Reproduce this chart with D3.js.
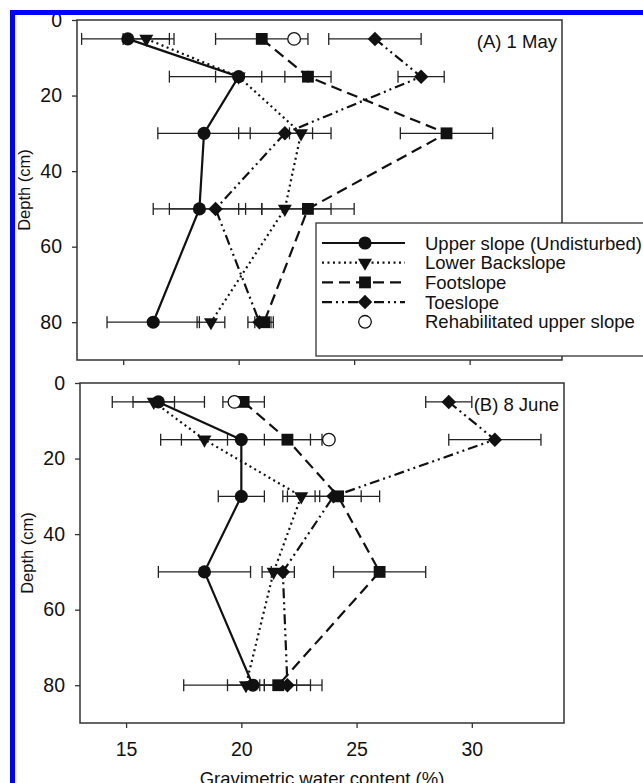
<!DOCTYPE html>
<html>
<head>
<meta charset="utf-8">
<script src="https://cdn.jsdelivr.net/npm/d3@7"></script>
<style>
body { margin: 0; background: #fff; }
text { font-family: "Liberation Sans", Arial, sans-serif; fill: #111; }
</style>
</head>
<body>
<div id="chart"></div>
<script>
// depth of each sample (cm)
var depths = [5, 15, 30, 50, 80];
var xTicks = [15, 20, 25, 30];
var yTicks = [0, 20, 40, 60, 80];
var seriesNames = ["Upper slope (Undisturbed)", "Lower Backslope", "Footslope", "Toeslope", "Rehabilitated upper slope"];

// (A) 1 May - water content (%) and error
var mayUpper = [15.2, 20.0, 18.5, 18.3, 16.3];
var mayUpperErr = [2, 3, 2, 2, 2];
var mayLower = [16.0, 20.0, 22.7, 22.0, 18.8];
var mayLowerErr = [1, 1, 0.5, 2, 0.6];
var mayFoot = [21.0, 23.0, 29.0, 23.0, 21.1];
var mayFootErr = [2, 1, 2, 2, 0.4];
var mayToe = [25.9, 27.9, 22.0, 19.0, 20.9];
var mayToeErr = [2, 1, 2, 2, 0.5];
var mayRehabDepth = [5];
var mayRehab = [22.4];

// (B) 8 June
var juneUpper = [16.4, 20.0, 20.0, 18.4, 20.5];
var juneUpperErr = [2, 3.5, 1, 2, 3];
var juneLower = [16.2, 18.4, 22.6, 21.4, 20.2];
var juneLowerErr = [0.9, 1, 0.8, 0.5, 0.8];
var juneFoot = [20.1, 22.0, 24.2, 26.0, 21.6];
var juneFootErr = [0.9, 1, 1, 2, 0.8];
var juneToe = [29.0, 31.0, 24.0, 21.8, 22.0];
var juneToeErr = [1, 2, 2, 0.5, 1];
var juneRehabDepth = [5, 15];
var juneRehab = [19.7, 23.8];

var svgWidth = 643;
var svgHeight = 783;
var ink = "#111";

var svg = d3.select("#chart")
  .append("svg")
  .attr("width", svgWidth)
  .attr("height", svgHeight)
  .style("display", "block");

svg.append("rect").attr("width", svgWidth).attr("height", svgHeight).attr("fill", "#fff");

// line styles and markers per series
var dashes = [null, "2,3.5", "11,6", "10,4,2,4,2,4"];
var symbols = [
  d3.symbol().type(d3.symbolCircle).size(135),
  d3.symbol().type(d3.symbolTriangle).size(85),
  d3.symbol().type(d3.symbolSquare).size(140),
  d3.symbol().type(d3.symbolSquare).size(105)
];
var rotations = [0, 180, 0, 45];

function drawPanel(box, series, rehabDepth, rehab, label, showLabels) {
  var x = d3.scaleLinear().domain([13, 34]).range([box.left, box.right]);
  var y = d3.scaleLinear().domain([0, 90]).range([box.top, box.bottom]);
  var g = svg.append("g");

  // axes
  var yAxis = g.append("g")
    .attr("transform", `translate(${box.left}, 0)`)
    .call(d3.axisLeft(y).tickValues(yTicks).tickSize(5).tickPadding(10));
  var xAxis = g.append("g")
    .attr("transform", `translate(0, ${box.bottom})`)
    .call(d3.axisBottom(x).tickValues(xTicks).tickSize(5).tickPadding(14)
      .tickFormat(showLabels ? d3.format("d") : ""));
  [xAxis, yAxis].forEach(function(a) {
    a.select(".domain").remove();
    a.selectAll("line").attr("stroke", "#333").attr("stroke-width", 1.3);
    a.selectAll("text").style("font-size", "19.5px").attr("fill", ink);
  });

  // frame
  g.append("rect")
    .attr("x", box.left).attr("y", box.top)
    .attr("width", box.right - box.left).attr("height", box.bottom - box.top)
    .attr("fill", "none").attr("stroke", "#333").attr("stroke-width", 1.5);

  // error bars
  series.forEach(function(s) {
    depths.forEach(function(d, i) {
      var lo = x(s.values[i] - s.err[i]), hi = x(s.values[i] + s.err[i]), yy = y(d);
      g.append("line").attr("x1", lo).attr("x2", hi).attr("y1", yy).attr("y2", yy)
        .attr("stroke", "#222").attr("stroke-width", 1.3);
      [lo, hi].forEach(function(cx) {
        g.append("line").attr("x1", cx).attr("x2", cx).attr("y1", yy - 6).attr("y2", yy + 6)
          .attr("stroke", "#222").attr("stroke-width", 1.3);
      });
    });
  });

  // profile lines
  var line = d3.line().x(d => x(d[0])).y(d => y(d[1]));
  series.forEach(function(s, k) {
    g.append("path")
      .datum(s.values.map((v, i) => [v, depths[i]]))
      .attr("d", line)
      .attr("fill", "none")
      .attr("stroke", ink)
      .attr("stroke-width", 2.2)
      .attr("stroke-dasharray", dashes[k]);
  });

  // markers
  series.forEach(function(s, k) {
    g.selectAll(null)
      .data(s.values.map((v, i) => [v, depths[i]]))
      .enter()
      .append("path")
      .attr("d", symbols[k])
      .attr("transform", d => `translate(${x(d[0])}, ${y(d[1])}) rotate(${rotations[k]})`)
      .attr("fill", ink);
  });

  g.selectAll(null)
    .data(rehab.map((v, i) => [v, rehabDepth[i]]))
    .enter()
    .append("circle")
    .attr("cx", d => x(d[0]))
    .attr("cy", d => y(d[1]))
    .attr("r", 6.3)
    .attr("fill", "#fff")
    .attr("stroke", ink)
    .attr("stroke-width", 1.3);

  g.append("text")
    .attr("x", box.right - 5)
    .attr("y", box.top + 28)
    .attr("text-anchor", "end")
    .style("font-size", "18.5px")
    .text(label);

  g.append("text")
    .attr("transform", `translate(${box.left - 47}, ${(box.top + box.bottom) / 2}) rotate(-90)`)
    .attr("text-anchor", "middle")
    .style("font-size", "16.5px")
    .text("Depth (cm)");

  return g;
}

var panelA = drawPanel({ left: 77, right: 562, top: 20, bottom: 360 },
  [{ values: mayUpper, err: mayUpperErr }, { values: mayLower, err: mayLowerErr },
   { values: mayFoot, err: mayFootErr }, { values: mayToe, err: mayToeErr }],
  mayRehabDepth, mayRehab, "(A) 1 May", false);

drawPanel({ left: 80, right: 564, top: 383, bottom: 723 },
  [{ values: juneUpper, err: juneUpperErr }, { values: juneLower, err: juneLowerErr },
   { values: juneFoot, err: juneFootErr }, { values: juneToe, err: juneToeErr }],
  juneRehabDepth, juneRehab, "(B) 8 June", true);

// legend inside panel A
var legend = panelA.append("g").attr("transform", "translate(316, 223)");
legend.append("rect")
  .attr("width", 360).attr("height", 133)
  .attr("fill", "#fff").attr("stroke", "#333").attr("stroke-width", 1.3);

seriesNames.forEach(function(name, k) {
  var row = legend.append("g").attr("transform", `translate(0, ${20 + k * 19.7})`);
  if (k < 4) {
    row.append("line").attr("x1", 6).attr("x2", 89).attr("y1", 0).attr("y2", 0)
      .attr("stroke", ink).attr("stroke-width", 2.2).attr("stroke-dasharray", dashes[k]);
    row.append("path").attr("d", symbols[k])
      .attr("transform", `translate(49, 0) rotate(${rotations[k]})`).attr("fill", ink);
  } else {
    row.append("circle").attr("cx", 49).attr("cy", 0).attr("r", 6.3)
      .attr("fill", "#fff").attr("stroke", ink).attr("stroke-width", 1.3);
  }
  row.append("text").attr("x", 109).attr("y", 6.5)
    .style("font-size", "18.5px").text(name);
});

// x axis title (cut by the bottom edge, as in the original figure)
svg.append("text")
  .attr("x", 322)
  .attr("y", 785)
  .attr("text-anchor", "middle")
  .style("font-size", "18.5px")
  .text("Gravimetric water content (%)");

// blue frame round the figure
svg.append("rect")
  .attr("x", 12.5).attr("y", 12.5)
  .attr("width", 700).attr("height", 800)
  .attr("fill", "none").attr("stroke", "#0000ff").attr("stroke-width", 5);
</script>
</body>
</html>
